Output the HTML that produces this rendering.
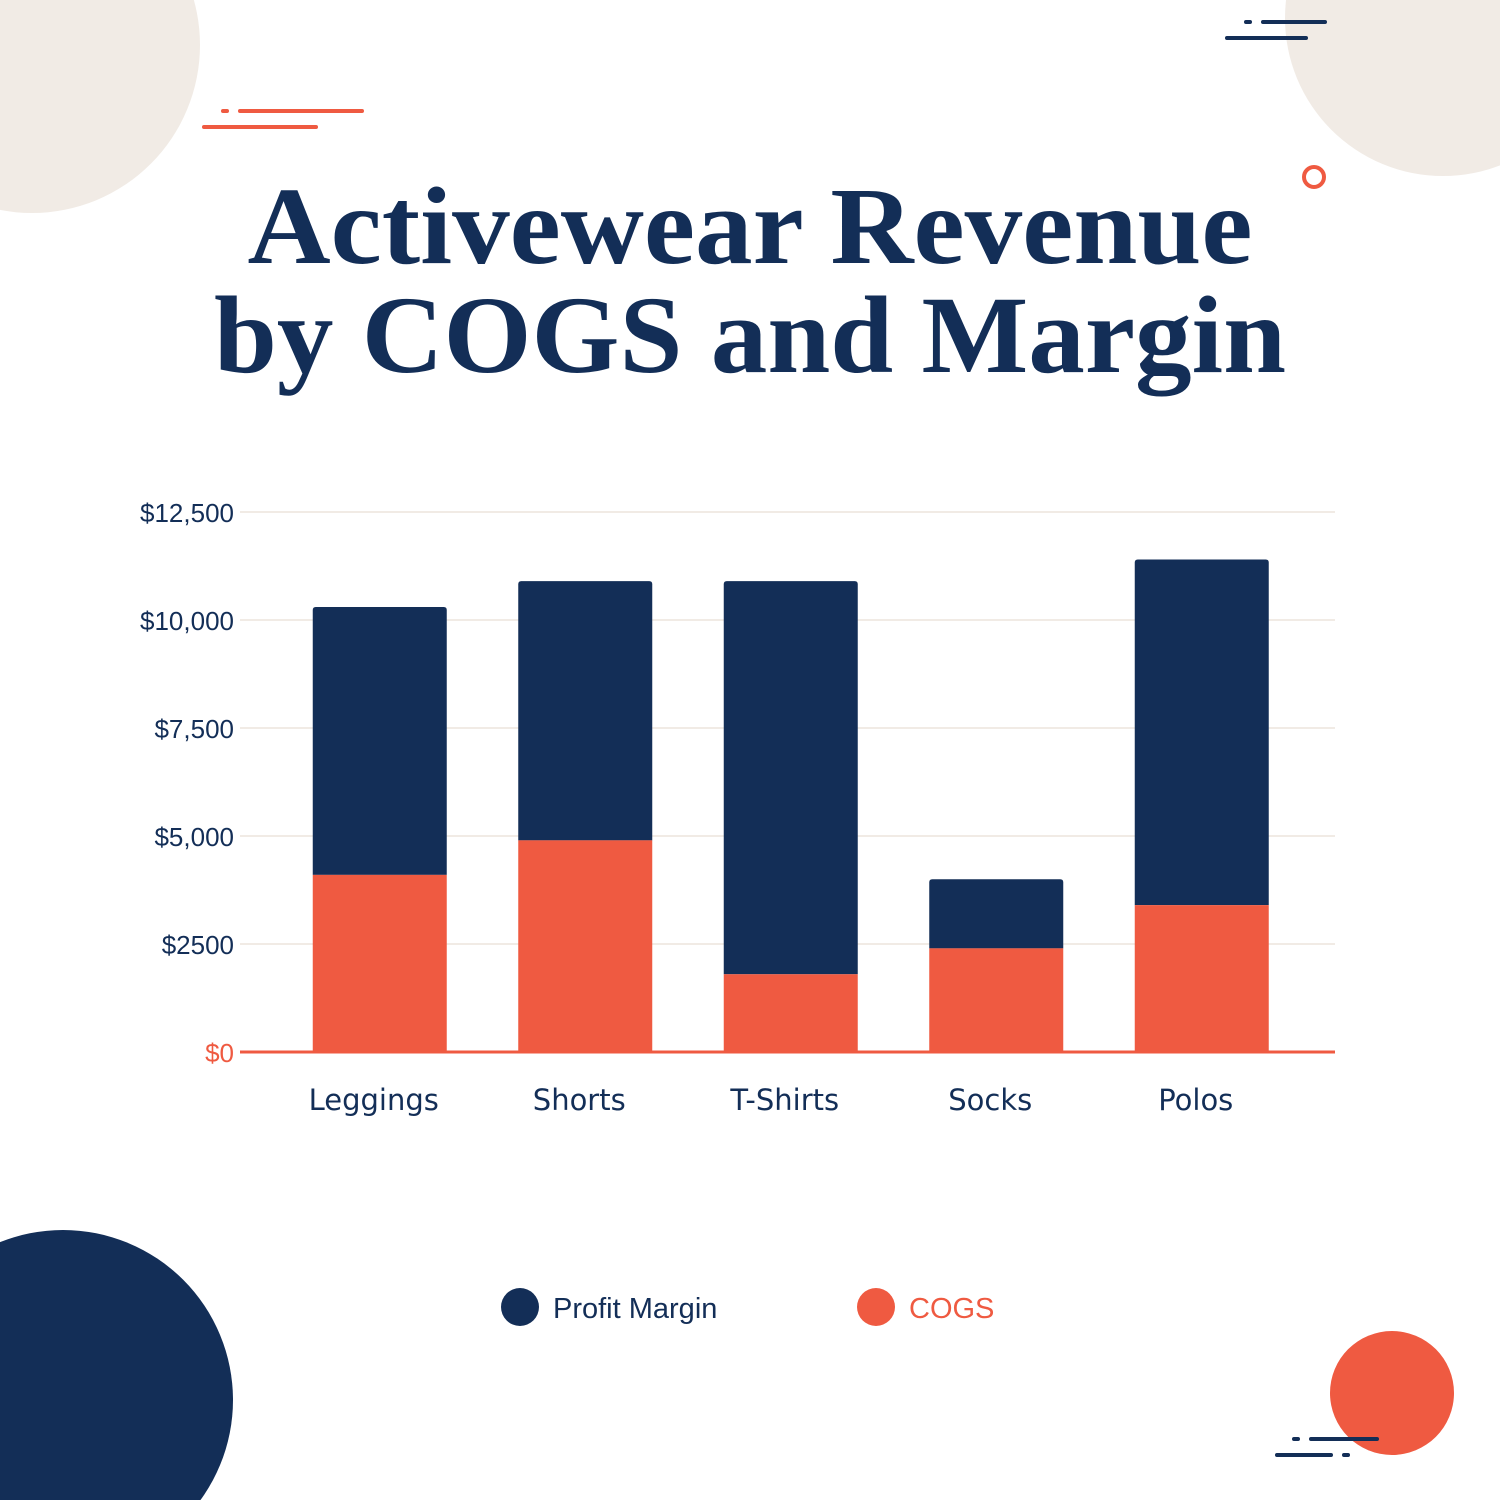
<!DOCTYPE html>
<html><head><meta charset="utf-8"><style>
html,body{margin:0;padding:0;background:#fff;}
svg{display:block;}
</style></head><body>
<svg width="1500" height="1500" viewBox="0 0 1500 1500" xmlns="http://www.w3.org/2000/svg">
  <g>
    <circle cx="32" cy="45" r="168" fill="#f1ebe5"/>
    <circle cx="1443" cy="18" r="158" fill="#f1ebe5"/>
    <circle cx="63" cy="1400" r="170" fill="#132e57"/>
    <circle cx="1392" cy="1393" r="62" fill="#ef5a41"/>
    <circle cx="1314" cy="177" r="10" fill="none" stroke="#ef5a41" stroke-width="4"/>
    <g stroke="#ef5a41" stroke-width="4" stroke-linecap="round">
      <line x1="223" y1="111" x2="227" y2="111"/><line x1="240" y1="111" x2="362" y2="111"/><line x1="204" y1="127" x2="316" y2="127"/>
    </g>
    <g stroke="#132e57" stroke-width="4" stroke-linecap="round">
      <line x1="1246" y1="22" x2="1250" y2="22"/><line x1="1263" y1="22" x2="1325" y2="22"/><line x1="1227" y1="38" x2="1306" y2="38"/>
    </g>
    <g stroke="#132e57" stroke-width="4" stroke-linecap="round">
      <line x1="1294" y1="1439" x2="1298" y2="1439"/><line x1="1311" y1="1439" x2="1377" y2="1439"/><line x1="1277" y1="1455" x2="1331" y2="1455"/><line x1="1344" y1="1455" x2="1348" y2="1455"/>
    </g>
  </g>
  <g font-family="'Liberation Serif', serif" font-weight="bold" fill="#132e57" font-size="110">
    <text x="750" y="263" text-anchor="middle" textLength="1005" lengthAdjust="spacingAndGlyphs">Activewear Revenue</text>
    <text x="750" y="372" text-anchor="middle" textLength="1072" lengthAdjust="spacingAndGlyphs">by COGS and Margin</text>
  </g>
  <g id="grid"></g>
  <g id="ylabels" font-family="'Liberation Sans', sans-serif" font-size="26"></g>
  <g id="bars"></g>
  <line x1="240" y1="1052" x2="1335" y2="1052" stroke="#ef5a41" stroke-width="3"/>
  <g id="xlabels" font-family="'DejaVu Sans', sans-serif" font-size="29" fill="#132e57"></g>
  <g>
    <g>
      <circle cx="520" cy="1307" r="19" fill="#132e57"/>
      <text x="553" y="1318" font-family="'Liberation Sans', sans-serif" font-size="29" fill="#132e57">Profit Margin</text>
    </g>
    <g>
      <circle cx="876" cy="1307" r="19" fill="#ef5a41"/>
      <text x="909" y="1318" font-family="'Liberation Sans', sans-serif" font-size="29" fill="#ef5a41">COGS</text>
    </g>
  </g>
</svg>
<script>
const categories = ["Leggings","Shorts","T-Shirts","Socks","Polos"];
const cogs = [4100, 4900, 1800, 2400, 3400];
const profit = [6200, 6000, 9100, 1600, 8000];
const tickValues = [0, 2500, 5000, 7500, 10000, 12500];
const tickLabels = ["$0","$2500","$5,000","$7,500","$10,000","$12,500"];

const NS = "http://www.w3.org/2000/svg";
const y0 = 1052, y1 = 512, vmax = 12500;
function yScale(v){ return y0 - (v / vmax) * (y0 - y1); }
const xStart = 277, slot = 205.5, barW = 134;
function xCenter(i){ return xStart + slot * (i + 0.5); }
function mk(tag, attrs, parent){ const e = document.createElementNS(NS, tag); for (const k in attrs) e.setAttribute(k, attrs[k]); parent.appendChild(e); return e; }

const grid = document.getElementById("grid"), yl = document.getElementById("ylabels");
tickValues.forEach((v, i) => {
  if (v > 0) {
    const l = mk("line", {x1:240, x2:1335, y1:yScale(v), y2:yScale(v), stroke:"#f1ebe5", "stroke-width":2}, grid);
    
    
  }
  const t = mk("text", {x:234, y:yScale(v) + 10, "text-anchor":"end", fill: v === 0 ? "#ef5a41" : "#132e57"}, yl);
  t.textContent = tickLabels[i];
  
  
});

const bars = document.getElementById("bars"), xl = document.getElementById("xlabels");
categories.forEach((c, i) => {
  const cx = xCenter(i), x = cx - barW / 2;
  const total = cogs[i] + profit[i];
  const top = yScale(total), mid = yScale(cogs[i]);
  const p = mk("path", {d:`M${x},${mid} V${top+3} Q${x},${top} ${x+3},${top} H${x+barW-3} Q${x+barW},${top} ${x+barW},${top+3} V${mid} Z`, fill:"#132e57"}, bars);
  
  
  const r = mk("rect", {x:x, y:mid, width:barW, height:y0 - mid, fill:"#ef5a41"}, bars);
  
  
  const t = mk("text", {x:cx - 6, y:1110, "text-anchor":"middle"}, xl);
  t.textContent = c;
  
  
});
</script>
</body></html>
